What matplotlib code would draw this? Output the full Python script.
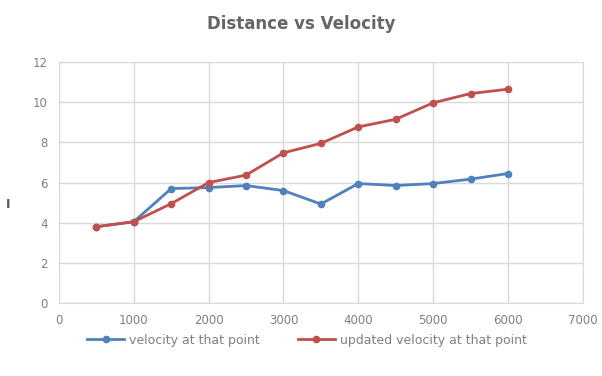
import numpy as np
import matplotlib.pyplot as plt

distance = [500, 1000, 1500, 2000, 2500, 3000, 3500, 4000, 4500, 5000, 5500, 6000]
velocity = [3.8, 4.05, 5.7, 5.75, 5.85, 5.6, 4.93, 5.95, 5.85, 5.95, 6.17, 6.45]
updated_velocity = [3.8, 4.05, 4.95, 6.0, 6.37, 7.48, 7.95, 8.77, 9.15, 9.97, 10.43, 10.65]

xticks = [0, 1000, 2000, 3000, 4000, 5000, 6000, 7000]
yticks = [0, 2, 4, 6, 8, 10, 12]

fig = plt.figure(figsize=(6.02, 3.76), dpi=100)
ax = fig.add_axes([0.098, 0.194, 0.87, 0.641])

ax.plot(distance, velocity, color='#4f81bd', marker='o', markersize=4.5, linewidth=2, label='velocity at that point')
ax.plot(distance, updated_velocity, color='#c0504d', marker='o', markersize=4.5, linewidth=2, label='updated velocity at that point')

ax.set_xlim(0, 7000)
ax.set_ylim(0, 12)
ax.set_xticks(xticks)
ax.set_yticks(yticks)
ax.tick_params(length=0, labelsize=8.5, colors='#808080', pad=8)
ax.grid(True, color='#d9d9d9', linewidth=1)
ax.set_axisbelow(True)
for s in ax.spines.values():
    s.set_color('#d9d9d9')

fig.text(0.5, 0.935, 'Distance vs Velocity', ha='center', va='center', fontsize=12, color='#666666', fontweight='semibold')
fig.text(0.014, 0.455, 'I', ha='center', va='center', fontsize=9, color='#595959', fontweight='bold')

fig.legend(loc='center', bbox_to_anchor=(0.51, 0.095), ncol=2, frameon=False, fontsize=9,
           labelcolor='#808080', columnspacing=3, handlelength=3, handletextpad=0.4)

plt.savefig('out.png', dpi=100)
